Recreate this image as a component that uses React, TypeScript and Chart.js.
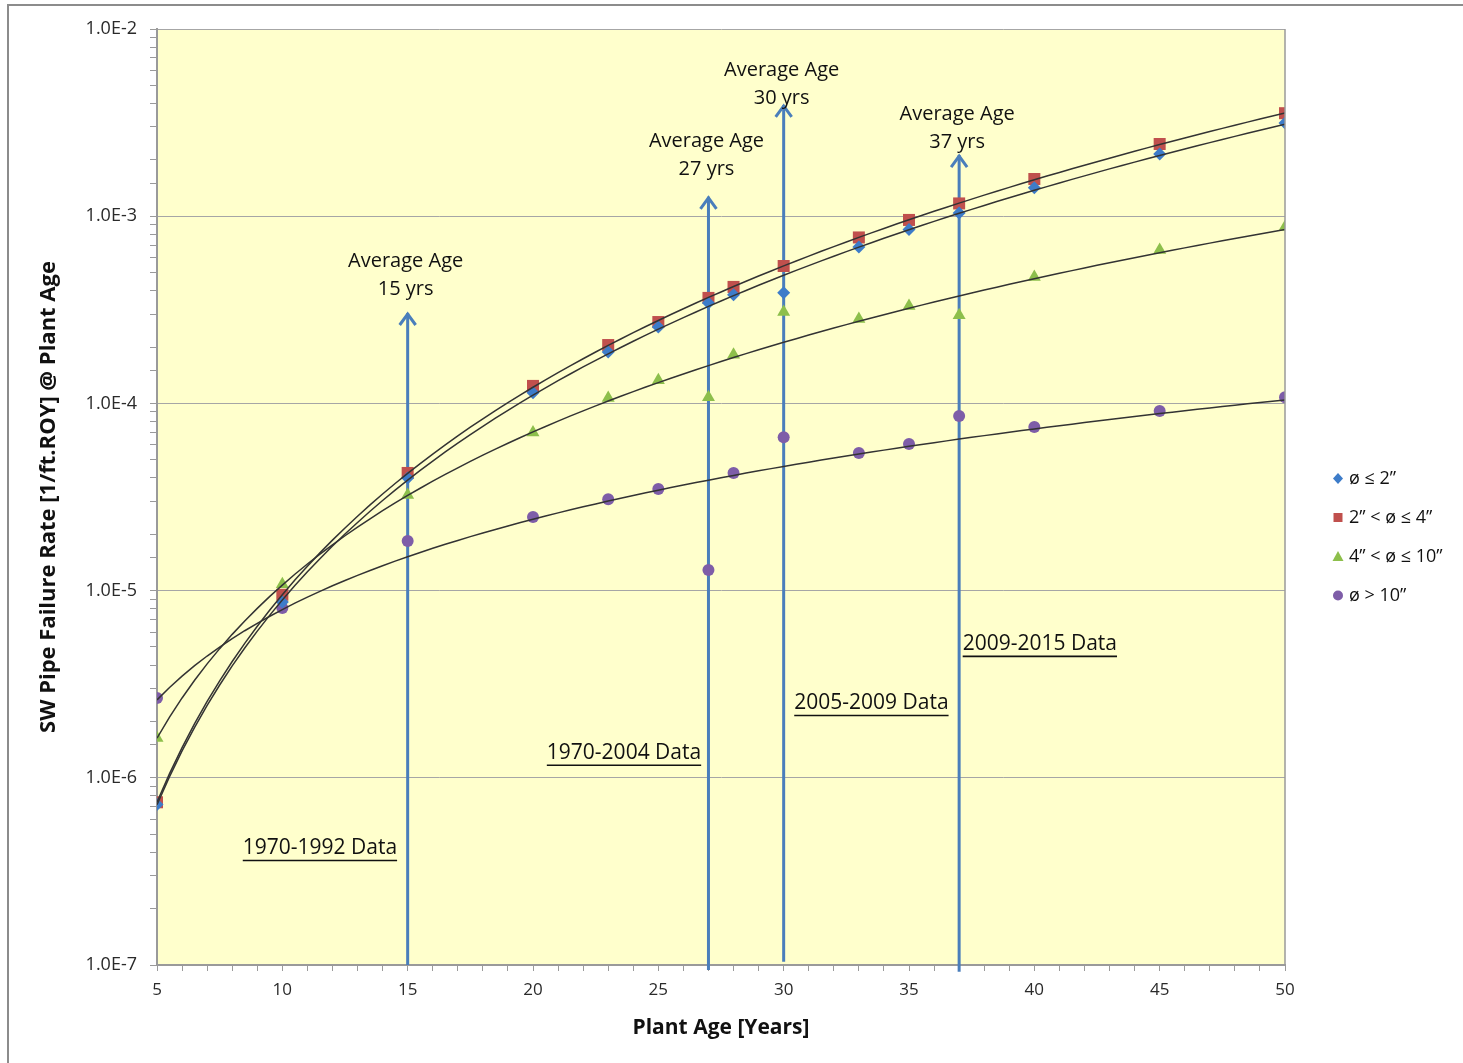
import React, { useEffect, useRef } from 'react';
import { Chart, registerables } from 'chart.js';

Chart.register(...registerables);

// ---------------- data ----------------
const AGES = [5, 10, 15, 20, 23, 25, 27, 28, 30, 33, 35, 37, 40, 45, 50];

const SERIES_NAMES = ['ø ≤ 2”', '2” < ø ≤ 4”', '4” < ø ≤ 10”', 'ø > 10”'];

const RATE_UP_TO_2 = [7.2e-7, 8.7e-6, 4.0e-5, 1.14e-4, 1.88e-4, 2.56e-4, 3.44e-4, 3.8e-4, 3.9e-4, 6.85e-4, 8.5e-4, 1.04e-3, 1.42e-3, 2.15e-3, 3.15e-3];
const RATE_2_TO_4 = [7.4e-7, 9.5e-6, 4.25e-5, 1.24e-4, 2.05e-4, 2.72e-4, 3.66e-4, 4.19e-4, 5.42e-4, 7.7e-4, 9.55e-4, 1.17e-3, 1.58e-3, 2.43e-3, 3.55e-3];
const RATE_4_TO_10 = [1.63e-6, 1.08e-5, 3.24e-5, 7.0e-5, 1.07e-4, 1.33e-4, 1.08e-4, 1.82e-4, 3.08e-4, 2.82e-4, 3.31e-4, 2.96e-4, 4.73e-4, 6.6e-4, 8.75e-4];
const RATE_OVER_10 = [2.67e-6, 8.07e-6, 1.84e-5, 2.47e-5, 3.08e-5, 3.49e-5, 1.29e-5, 4.25e-5, 6.6e-5, 5.43e-5, 6.07e-5, 8.57e-5, 7.48e-5, 9.1e-5, 1.08e-4];

const SERIES_COLORS = ['#3D7CC9', '#C0504D', '#8DBF4B', '#7E5DA8'];
const SERIES_STYLES = ['rectRot', 'rect', 'triangle', 'circle'];
const SERIES_RADII = [6.5, 8.5, 7.5, 6];

// average-age arrows (x = age, y = failure rate)
const ARROW_AGES = [15, 27, 30, 37];
const ARROW_TOPS = [3.04e-4, 1.27e-3, 3.93e-3, 2.12e-3];
const ARROW_BOTTOMS = [1e-7, 0.94e-7, 1.04e-7, 0.92e-7];
const AVG_AGE_LABELS = ['15 yrs', '27 yrs', '30 yrs', '37 yrs'];
const AVG_AGE_LABEL_Y = [4.08e-4, 1.79e-3, 4.28e-3, 2.49e-3];

// data-period labels
const PERIOD_LABELS = ['1970-1992 Data', '1970-2004 Data', '2005-2009 Data', '2009-2015 Data'];
const PERIOD_LABEL_X = [11.5, 23.63, 33.5, 40.22];
const PERIOD_LABEL_Y = [4.22e-7, 1.36e-6, 2.51e-6, 5.19e-6];

const X_MIN = 5;
const X_MAX = 50;
const Y_MIN = 1e-7;
const Y_MAX = 1e-2;

const SERIES = [RATE_UP_TO_2, RATE_2_TO_4, RATE_4_TO_10, RATE_OVER_10];

// ---------------- helpers ----------------
const FONT = "'Open Sans', 'DejaVu Sans', sans-serif";
const TEXT_COLOR = '#111111';

function powerFit(xs: number[], ys: number[]) {
  // least squares on ln(y) = ln(a) + b ln(x)  (Excel power trendline)
  const n = xs.length;
  let sx = 0, sy = 0, sxx = 0, sxy = 0;
  for (let i = 0; i < n; i++) {
    const lx = Math.log(xs[i]);
    const ly = Math.log(ys[i]);
    sx += lx; sy += ly; sxx += lx * lx; sxy += lx * ly;
  }
  const b = (n * sxy - sx * sy) / (n * sxx - sx * sx);
  const a = Math.exp((sy - b * sx) / n);
  return { a, b };
}

const TREND_SAMPLES = Array.from({ length: 91 }, (_, i) => X_MIN + i * 0.5);

function isMajor(v: number | undefined) {
  if (v === undefined || v === null || v <= 0) return false;
  const l = Math.log10(v);
  return Math.abs(l - Math.round(l)) < 1e-9;
}

const decorPlugin = {
  id: 'decor',
  beforeDraw(chart: any) {
    const { ctx, chartArea: a } = chart;
    ctx.save();
    ctx.fillStyle = '#ffffff';
    ctx.fillRect(0, 0, chart.width, chart.height);
    ctx.fillStyle = '#FFFFCC';
    ctx.fillRect(a.left, a.top, a.right - a.left, a.bottom - a.top);
    // outer frame (top and left visible)
    ctx.fillStyle = '#8c8c8c';
    ctx.fillRect(7, 4, chart.width - 7, 2);
    ctx.fillRect(7, 4, 2, chart.height - 4);
    ctx.restore();
  },
  afterDatasetsDraw(chart: any) {
    const { ctx, chartArea: a, scales } = chart;
    const xs = scales.x;
    const ys = scales.y;
    ctx.save();
    // plot border (right side)
    ctx.strokeStyle = '#9a9a9a';
    ctx.lineWidth = 1.5;
    ctx.beginPath();
    ctx.moveTo(a.right, a.top);
    ctx.lineTo(a.right, a.bottom);
    ctx.stroke();
    // arrow heads
    ctx.strokeStyle = '#4A7EBB';
    ctx.lineWidth = 3;
    ctx.lineJoin = 'miter';
    ctx.lineCap = 'butt';
    for (let i = 0; i < ARROW_AGES.length; i++) {
      const px = xs.getPixelForValue(ARROW_AGES[i]);
      const py = ys.getPixelForValue(ARROW_TOPS[i]);
      ctx.beginPath();
      ctx.moveTo(px - 8, py + 12);
      ctx.lineTo(px, py + 1);
      ctx.lineTo(px + 8, py + 12);
      ctx.stroke();
    }
    ctx.restore();
  },
  afterDraw(chart: any) {
    const { ctx, chartArea: a, scales } = chart;
    const xs = scales.x;
    const ys = scales.y;
    ctx.save();
    ctx.fillStyle = TEXT_COLOR;
    ctx.strokeStyle = TEXT_COLOR;
    ctx.textAlign = 'center';
    ctx.textBaseline = 'middle';
    ctx.font = `20px ${FONT}`;
    // average age annotations
    for (let i = 0; i < ARROW_AGES.length; i++) {
      const px = xs.getPixelForValue(ARROW_AGES[i]) - 2;
      const py = ys.getPixelForValue(AVG_AGE_LABEL_Y[i]);
      ctx.fillText('Average Age', px, py - 28);
      ctx.fillText(AVG_AGE_LABELS[i], px, py);
    }
    // data period labels (underlined)
    ctx.font = `21px ${FONT}`;
    ctx.lineWidth = 1.6;
    for (let i = 0; i < PERIOD_LABELS.length; i++) {
      const px = xs.getPixelForValue(PERIOD_LABEL_X[i]);
      const py = ys.getPixelForValue(PERIOD_LABEL_Y[i]);
      ctx.fillText(PERIOD_LABELS[i], px, py);
      const w = ctx.measureText(PERIOD_LABELS[i]).width;
      ctx.beginPath();
      ctx.moveTo(px - w / 2, py + 12.5);
      ctx.lineTo(px + w / 2, py + 12.5);
      ctx.stroke();
    }
    // legend
    const lx = a.right + 53;
    const cy = (a.top + a.bottom) / 2 + 40;
    ctx.font = `18px ${FONT}`;
    ctx.textAlign = 'left';
    for (let i = 0; i < SERIES_NAMES.length; i++) {
      const y = cy + (i - 1.5) * 39;
      ctx.fillStyle = SERIES_COLORS[i];
      ctx.beginPath();
      if (SERIES_STYLES[i] === 'rectRot') {
        ctx.moveTo(lx, y - 5.5); ctx.lineTo(lx + 5, y); ctx.lineTo(lx, y + 5.5); ctx.lineTo(lx - 5, y); ctx.closePath();
      } else if (SERIES_STYLES[i] === 'rect') {
        ctx.rect(lx - 4.5, y - 4.5, 9, 9);
      } else if (SERIES_STYLES[i] === 'triangle') {
        ctx.moveTo(lx, y - 5.5); ctx.lineTo(lx + 5.5, y + 4.5); ctx.lineTo(lx - 5.5, y + 4.5); ctx.closePath();
      } else {
        ctx.arc(lx, y, 5, 0, Math.PI * 2);
      }
      ctx.fill();
      ctx.fillStyle = TEXT_COLOR;
      ctx.fillText(SERIES_NAMES[i], lx + 11, y);
    }
    ctx.restore();
  },
};

export default function App() {
  const ref = useRef<HTMLCanvasElement>(null);

  useEffect(() => {
    if (!ref.current) return;

    const markerSets = SERIES.map((vals, i) => ({
      label: SERIES_NAMES[i],
      data: AGES.map((x, j) => ({ x, y: vals[j] })),
      showLine: false,
      pointStyle: SERIES_STYLES[i],
      pointRadius: SERIES_RADII[i],
      pointBackgroundColor: SERIES_COLORS[i],
      pointBorderColor: SERIES_COLORS[i],
      pointBorderWidth: 0,
      order: 1,
    }));

    const trendSets = SERIES.map((vals, i) => {
      const { a, b } = powerFit(AGES, vals);
      return {
        label: SERIES_NAMES[i] + ' trend',
        data: TREND_SAMPLES.map((x) => ({ x, y: a * Math.pow(x, b) })),
        showLine: true,
        borderColor: '#333333',
        borderWidth: 1.5,
        pointRadius: 0,
        tension: 0,
        order: 0,
      };
    });

    const arrowSets = ARROW_AGES.map((x, i) => ({
      label: 'arrow ' + x,
      data: [
        { x, y: ARROW_BOTTOMS[i] },
        { x, y: ARROW_TOPS[i] },
      ],
      showLine: true,
      borderColor: '#4A7EBB',
      borderWidth: 3,
      pointRadius: 0,
      clip: false,
      order: 2,
    }));

    const chart = new Chart(ref.current, {
      type: 'scatter',
      data: { datasets: [...markerSets, ...trendSets, ...arrowSets] as any },
      options: {
        responsive: false,
        animation: false,
        events: [],
        layout: { padding: { top: 29, right: 178, bottom: 0, left: 0 } },
        plugins: {
          legend: { display: false },
          tooltip: { enabled: false },
        },
        scales: {
          x: {
            type: 'linear',
            min: X_MIN,
            max: X_MAX,
            afterFit: (s: any) => { s.height = 98; },
            ticks: {
              stepSize: 1,
              autoSkip: false,
              maxRotation: 0,
              minRotation: 0,
              padding: 9,
              color: '#2a2a2a',
              font: { family: FONT, size: 17 },
              callback: (v: any) => (Number(v) % 5 === 0 ? String(v) : ''),
            },
            grid: {
              drawOnChartArea: false,
              drawTicks: true,
              tickLength: 6,
              color: '#9a9a9a',
              tickColor: '#9a9a9a',
            },
            border: { color: '#9a9a9a', width: 2 },
            title: {
              display: true,
              text: 'Plant Age [Years]',
              color: TEXT_COLOR,
              font: { family: FONT, size: 21, weight: 'bold' },
              padding: { top: 0, bottom: 22 },
            },
          },
          y: {
            type: 'logarithmic',
            min: Y_MIN,
            max: Y_MAX,
            afterFit: (s: any) => { s.width = 157; },
            ticks: {
              autoSkip: false,
              padding: 13,
              color: '#2a2a2a',
              font: { family: FONT, size: 18 },
              callback: (v: any) => {
                const n = Number(v);
                if (!isMajor(n)) return '';
                return `1.0E${Math.round(Math.log10(n))}`;
              },
            },
            grid: {
              color: (c: any) => (isMajor(c.tick && c.tick.value) ? '#a6a6a6' : 'rgba(0,0,0,0)'),
              tickColor: '#9a9a9a',
              tickLength: 7,
              lineWidth: 1,
            },
            border: { color: '#9a9a9a', width: 2 },
            title: {
              display: true,
              text: 'SW Pipe Failure Rate [1/ft.ROY] @ Plant Age',
              color: TEXT_COLOR,
              font: { family: FONT, size: 22, weight: 'bold' },
              padding: { top: 36, bottom: 0 },
            },
          },
        },
      } as any,
      plugins: [decorPlugin],
    });

    return () => chart.destroy();
  }, []);

  return (
    <div style={{ position: 'absolute', left: 0, top: 0, width: 1463, height: 1063, background: '#fff' }}>
      <canvas ref={ref} width={1463} height={1063} style={{ display: 'block' }} />
    </div>
  );
}
